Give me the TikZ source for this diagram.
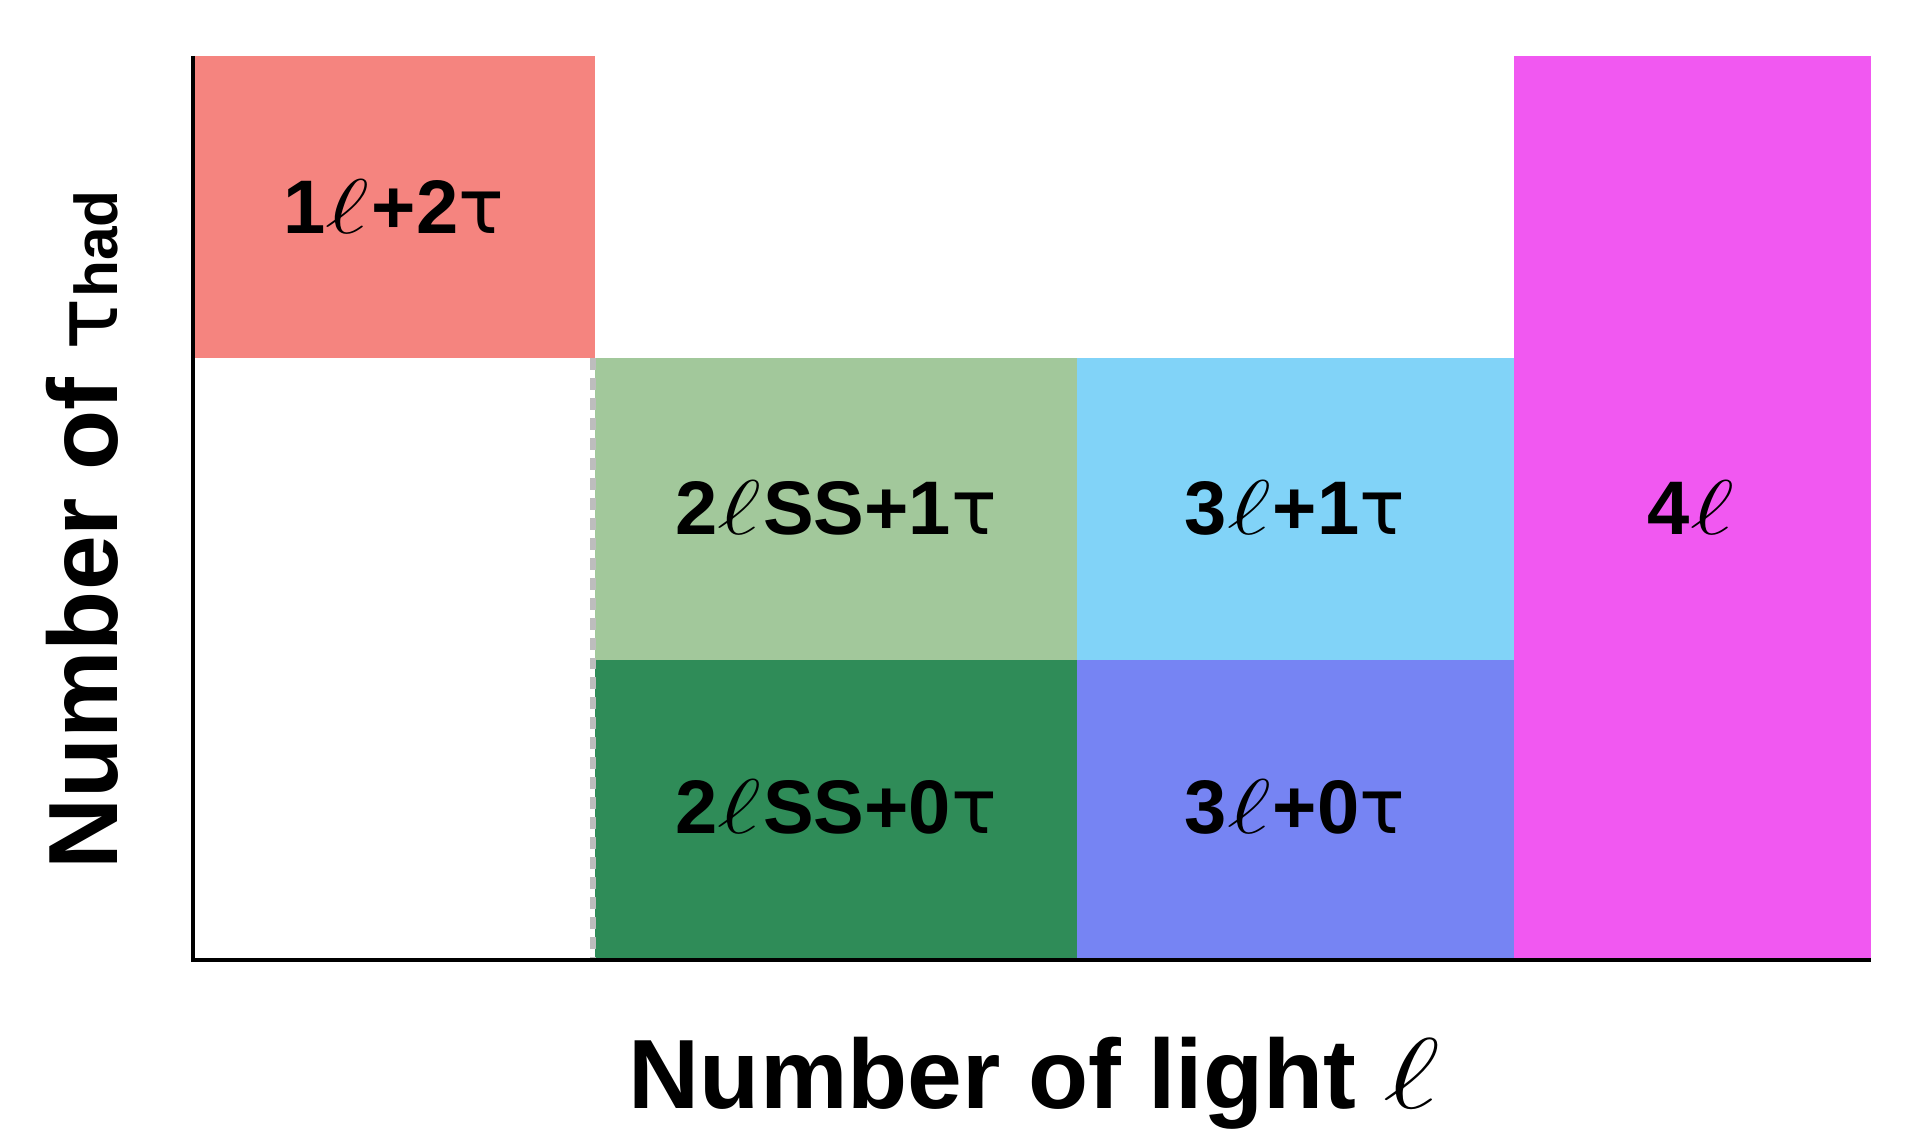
\RequirePackage{fix-cm}
\documentclass[tikz,border=0pt]{standalone}
\usepackage{fontspec}
\setmainfont{Liberation Sans}
\newfontfamily\greekfont{DejaVu Sans}
\definecolor{cred}{HTML}{F5847F}
\definecolor{clgreen}{HTML}{A2C89B}
\definecolor{clblue}{HTML}{81D3F8}
\definecolor{cdgreen}{HTML}{2F8C58}
\definecolor{cblue}{HTML}{7684F3}
\definecolor{cmag}{HTML}{F158F1}
\definecolor{cdash}{HTML}{BDBDBD}
\newcommand\tauR{{\greekfont\mdseries τ}}
\newcommand\ellS{\scalebox{1.4}[1.02]{$\ell$}\kern0.03em}
\tikzset{
  celllabel/.style={font=\fontsize{54}{60}\selectfont\bfseries, text=black, inner sep=0pt},
  axislabel/.style={font=\fontsize{70}{80}\selectfont\bfseries, text=black, inner sep=0pt},
  axisline/.style={draw=black, line width=2.85pt},
  sepline/.style={draw=cdash, line width=3.6pt, dash pattern=on 8.5pt off 5.7pt},
}
\begin{document}
\begin{tikzpicture}[x=0.025cm, y=-0.025cm]
\useasboundingbox[fill=white] (0,0) rectangle (1930,1142);
% cells
\fill[cred]    (193,56)   rectangle (595,358);
\fill[clgreen] (595,358)  rectangle (1077,660);
\fill[clblue]  (1077,358) rectangle (1514,660);
\fill[cdgreen] (595,660)  rectangle (1077,960);
\fill[cblue]   (1077,660) rectangle (1514,960);
\fill[cmag]    (1514,56)  rectangle (1871,960);
% dashed separator
\coordinate (dtop) at (593,358);
\coordinate (dbot) at (593,960);
\draw[sepline] (dtop) -- (dbot);
% axes
\coordinate (ytop) at (193,56);
\coordinate (orig) at (193,960);
\coordinate (xend) at (1871,960);
\draw[axisline] (ytop) -- (orig) -- (xend);
% labels
\node[celllabel] (c12) at (394,207) {1\ellS+2\tauR};
\node[celllabel] (c21) at (836,508) {2\ellS SS+1\tauR};
\node[celllabel] (c31) at (1295,508) {3\ellS+1\tauR};
\node[celllabel] (c4)  at (1692,508) {4\ellS};
\node[celllabel] (c20) at (836,807) {2\ellS SS+0\tauR};
\node[celllabel] (c30) at (1295,807) {3\ellS+0\tauR};
\node[axislabel, anchor=base] (xl) at (1036,1108) {Number of light \ellS};
\node[axislabel, anchor=base west, rotate=90] (yl) at (117,870) {Number of {\greekfont\mdseries\fontsize{62}{70}\selectfont τ}{\fontsize{43}{48}\selectfont had}};
\end{tikzpicture}
\end{document}
